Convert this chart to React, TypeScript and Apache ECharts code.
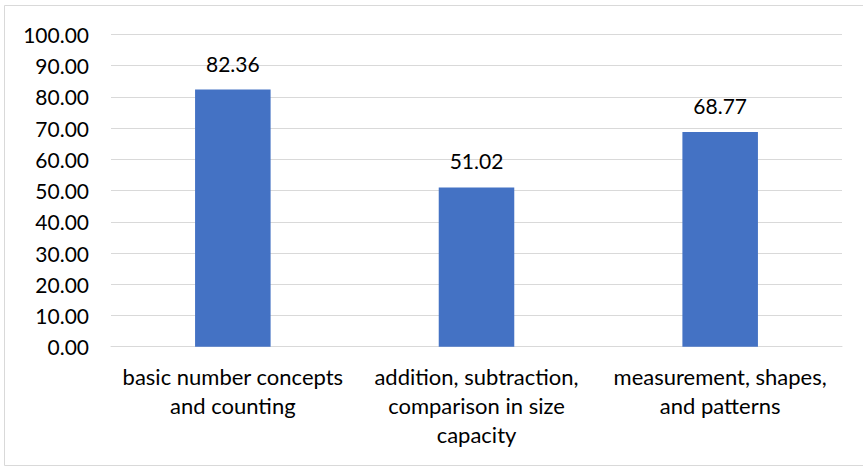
import React, { useEffect, useRef } from "react";
import * as echarts from "echarts";

const categories = [
  "basic number concepts\nand counting",
  "addition, subtraction,\ncomparison in size\ncapacity",
  "measurement, shapes,\nand patterns",
];
const values = [82.36, 51.02, 68.77];
const yMin = 0;
const yMax = 100;
const yInterval = 10;

const FONT = "Lato";
const TEXT = "#000000";

export default function App() {
  const ref = useRef<HTMLDivElement>(null);
  useEffect(() => {
    if (!ref.current) return;
    const chart = echarts.init(ref.current, undefined, { renderer: "svg" });
    chart.setOption({
      animation: false,
      backgroundColor: "#ffffff",
      textStyle: { fontFamily: FONT },
      graphic: [
        {
          type: "rect",
          shape: { x: 4.5, y: 5.5, width: 880, height: 460 },
          style: { fill: "none", stroke: "#d9d9d9", lineWidth: 1 },
          silent: true,
        },
      ],
      grid: { left: 111, right: 21, top: 34.5, bottom: 120.3, containLabel: false },
      xAxis: {
        type: "category",
        data: categories,
        axisTick: { show: false },
        axisLine: { show: true, lineStyle: { color: "#d9d9d9", width: 1 } },
        axisLabel: {
          color: TEXT,
          fontFamily: FONT,
          fontSize: 22,
          lineHeight: 29,
          margin: 15,
          interval: 0,
        },
      },
      yAxis: {
        type: "value",
        min: yMin,
        max: yMax,
        interval: yInterval,
        axisLine: { show: false },
        axisTick: { show: false },
        splitLine: { show: true, lineStyle: { color: "#d9d9d9", width: 1 } },
        axisLabel: {
          color: TEXT,
          fontFamily: FONT,
          fontSize: 21,
          margin: 22,
          formatter: (v: number) => v.toFixed(2),
        },
      },
      series: [
        {
          type: "bar",
          data: values,
          barWidth: "31%",
          itemStyle: { color: "#4472C4" },
          label: {
            show: true,
            position: "top",
            distance: 16,
            color: TEXT,
            fontFamily: FONT,
            fontSize: 21,
            formatter: (p: any) => Number(p.value).toFixed(2),
          },
        },
      ],
    });
    return () => chart.dispose();
  }, []);
  return (
    <div
      ref={ref}
      style={{ position: "fixed", left: 0, top: 0, width: 863, height: 467 }}
    />
  );
}
